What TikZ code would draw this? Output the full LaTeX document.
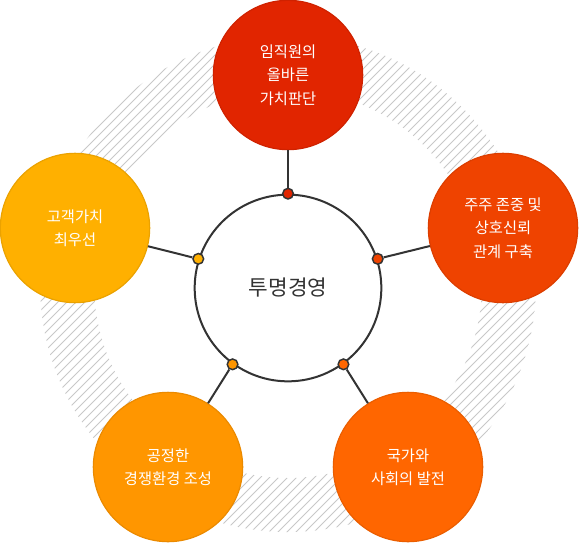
\documentclass[tikz,border=0pt]{standalone}
\usepackage{fontspec}
\setmainfont{Noto Sans CJK KR}
\definecolor{linec}{HTML}{333333}
\definecolor{hatchc}{HTML}{C8C8C8}
\definecolor{cTop}{HTML}{E12500}
\definecolor{cRight}{HTML}{EF4300}
\definecolor{cBR}{HTML}{FF6600}
\definecolor{cBL}{HTML}{FF9600}
\definecolor{cLeft}{HTML}{FFB000}
\begin{document}
\begin{tikzpicture}[x=0.75pt,y=-0.75pt,
  outer/.style={circle, minimum size=112pt, inner sep=0pt, text=white, align=center,
    font=\fontsize{11.5}{17.5}\selectfont, fill=#1, draw=#1!92!black, line width=0.9pt},
  dotn/.style={circle, minimum size=8pt, inner sep=0pt, draw=linec, line width=1.1pt, fill=#1},
  conn/.style={draw=linec, line width=1.5pt},
  hatchline/.style={draw=hatchc, line width=0.6pt}]
\useasboundingbox (0,0) rectangle (580,542);
% hatched ring
\begin{scope}[even odd rule]
  \clip (288,284) circle[radius=248] (288,284) circle[radius=194];
  \foreach \c in {0,9,...,1125} \draw[hatchline] (\c,0) -- ++(-580,580);
\end{scope}
% center circle
\node[circle, draw=linec, line width=1.5pt, fill=white, minimum size=140pt, inner sep=0pt,
  text=linec, font=\fontsize{16}{18}\selectfont] (m) at (288,288) {투명경영};
% outer circles
\node[outer=cTop] (c1) at (288,75) {임직원의\\올바른\\가치판단};
\node[outer=cRight] (c2) at (503,228) {주주 존중 및\\상호신뢰\\관계 구축};
\node[outer=cBR] (c3) at (408,467) {국가와\\사회의 발전};
\node[outer=cBL] (c4) at (168,467) {공정한\\경쟁환경 조성};
\node[outer=cLeft] (c5) at (75,228) {고객가치\\최우선};
% dots
\node[dotn=cTop] (d1) at (m.90) {};
\node[dotn=cRight] (d2) at (m.18) {};
\node[dotn=cBR] (d3) at (m.306) {};
\node[dotn=cBL] (d4) at (m.234) {};
\node[dotn=cLeft] (d5) at (m.162) {};
% connectors
\draw[conn] (d1) -- (c1);
\draw[conn] (d2) -- (c2);
\draw[conn] (d3) -- (c3);
\draw[conn] (d4) -- (c4);
\draw[conn] (d5) -- (c5);
\end{tikzpicture}
\end{document}
